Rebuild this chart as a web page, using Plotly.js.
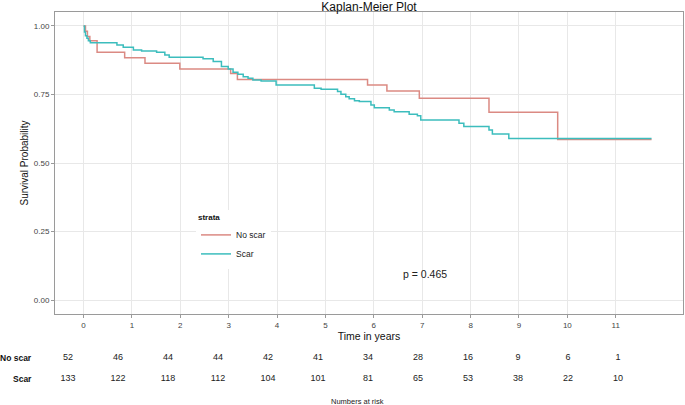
<!DOCTYPE html>
<html>
<head>
<meta charset="utf-8">
<script src="https://cdn.plot.ly/plotly-3.0.1.min.js"></script>
<style>html,body{margin:0;padding:0;background:#fff;}#chart{width:685px;height:405px;}</style>
</head>
<body>
<div id="chart"></div>
<script>
// ---- data ----
const strata = ["No scar", "Scar"];
const noScarTime = [0, 0.04, 0.08, 0.13, 0.28, 0.85, 1.27, 1.99, 3.04, 3.18, 5.87, 6.27, 6.94, 8.38, 9.80, 11.74];
const noScarSurv = [1.0, 0.981, 0.962, 0.946, 0.904, 0.884, 0.864, 0.843, 0.827, 0.805, 0.785, 0.763, 0.736, 0.685, 0.586, 0.586];
const scarTime = [0, 0.02, 0.04, 0.07, 0.10, 0.14, 0.69, 0.82, 1.03, 1.20, 1.51, 1.68, 1.77, 2.47, 2.68, 2.85, 2.99, 3.09, 3.19, 3.30, 3.40, 3.50, 3.67, 3.98, 4.77, 4.91, 5.25, 5.32, 5.42, 5.49, 5.60, 5.70, 5.94, 6.01, 6.32, 6.42, 6.73, 6.90, 6.97, 7.76, 7.86, 8.38, 8.45, 8.79, 11.74];
const scarSurv = [1.0, 0.978, 0.964, 0.955, 0.946, 0.939, 0.931, 0.922, 0.912, 0.909, 0.904, 0.894, 0.886, 0.880, 0.870, 0.852, 0.843, 0.831, 0.824, 0.815, 0.809, 0.803, 0.799, 0.785, 0.773, 0.769, 0.761, 0.751, 0.742, 0.734, 0.727, 0.724, 0.712, 0.702, 0.693, 0.687, 0.678, 0.672, 0.657, 0.645, 0.633, 0.620, 0.606, 0.589, 0.589];
const riskTimes = [0, 1, 2, 3, 4, 5, 6, 7, 8, 9, 10, 11];
const riskNoScar = [52, 46, 44, 44, 42, 41, 34, 28, 16, 9, 6, 1];
const riskScar = [133, 122, 118, 112, 104, 101, 81, 65, 53, 38, 22, 10];
const xTicks = [0, 1, 2, 3, 4, 5, 6, 7, 8, 9, 10, 11];
const yTicks = [0, 0.25, 0.5, 0.75, 1];
const pText = "p = 0.465";
const colors = ["#DB8A83", "#3CBDBD"];

const FONT = "Liberation Sans, Arial, sans-serif";
const W = 685, H = 405;

const traces = [
  {x: noScarTime, y: noScarSurv, name: strata[0], type: "scatter", mode: "lines",
   line: {shape: "hv", color: colors[0], width: 1.5}, xaxis: "x", yaxis: "y", legendgroup: "a"},
  {x: scarTime, y: scarSurv, name: strata[1], type: "scatter", mode: "lines",
   line: {shape: "hv", color: colors[1], width: 1.5}, xaxis: "x", yaxis: "y", legendgroup: "b"},
  {x: riskTimes, y: riskTimes.map(() => 2), text: riskNoScar.map(String), type: "scatter", mode: "text",
   textfont: {family: FONT, size: 9, color: "#222"}, showlegend: false, xaxis: "x2", yaxis: "y2",
   cliponaxis: false, hoverinfo: "skip"},
  {x: riskTimes, y: riskTimes.map(() => 1), text: riskScar.map(String), type: "scatter", mode: "text",
   textfont: {family: FONT, size: 9, color: "#222"}, showlegend: false, xaxis: "x2", yaxis: "y2",
   cliponaxis: false, hoverinfo: "skip"}
];

const layout = {
  width: W, height: H,
  margin: {l: 0, r: 0, t: 0, b: 0},
  paper_bgcolor: "#fff", plot_bgcolor: "#fff",
  font: {family: FONT, color: "#222"},
  showlegend: true,
  title: {text: "Kaplan-Meier Plot", font: {family: FONT, size: 12, color: "#111"},
          x: 369 / W, xanchor: "center", y: 1 - 7 / H, yanchor: "middle"},
  xaxis: {
    domain: [55 / W, 683 / W], range: [-0.59, 12.39], anchor: "y",
    tickvals: xTicks, ticktext: xTicks.map(String),
    showgrid: true, gridcolor: "#e8e8e8", gridwidth: 1, zeroline: false,
    showline: true, mirror: true, linecolor: "#9a9a9a", linewidth: 1,
    ticks: "outside", ticklen: 3, tickcolor: "#9a9a9a",
    tickfont: {family: FONT, size: 8, color: "#444"},
    title: {text: "Time in years", font: {family: FONT, size: 10.5, color: "#111"}, standoff: 2}
  },
  yaxis: {
    domain: [(H - 314) / H, (H - 12) / H], range: [-0.051, 1.051], anchor: "x",
    tickvals: yTicks, tickformat: ".2f",
    showgrid: true, gridcolor: "#e8e8e8", gridwidth: 1, zeroline: false,
    showline: true, mirror: true, linecolor: "#9a9a9a", linewidth: 1,
    ticks: "outside", ticklen: 3, tickcolor: "#9a9a9a",
    tickfont: {family: FONT, size: 8, color: "#444"},
    title: {text: "Survival Probability", font: {family: FONT, size: 10, color: "#111"}, standoff: 3}
  },
  xaxis2: {domain: [0, 1], range: [-1.36, 12.34], anchor: "y2", visible: false, fixedrange: true},
  yaxis2: {domain: [0, 0.2], range: [-0.26, 3.65], anchor: "x2", visible: false, fixedrange: true},
  legend: {
    x: 196 / W, xanchor: "left", y: 1 - 210 / H, yanchor: "top",
    bgcolor: "#fff", borderwidth: 0,
    font: {family: FONT, size: 8.5, color: "#222"},
    title: {text: "<b>strata</b>", font: {family: FONT, size: 8, color: "#111"}},
    tracegroupgap: 0
  },
  annotations: [
    {x: 7.06, y: 0.095, xref: "x", yref: "y", text: pText, showarrow: false,
     font: {family: FONT, size: 10.5, color: "#222"}, xanchor: "center", yanchor: "middle"},
    {x: -0.69, y: 2, xref: "x2", yref: "y2", text: "<b>" + strata[0] + "</b>", showarrow: false,
     xanchor: "right", yanchor: "middle", font: {family: FONT, size: 8.5, color: "#111"}},
    {x: -0.69, y: 1, xref: "x2", yref: "y2", text: "<b>" + strata[1] + "</b>", showarrow: false,
     xanchor: "right", yanchor: "middle", font: {family: FONT, size: 8.5, color: "#111"}},
    {x: 357 / W, y: (H - 401) / H, xref: "paper", yref: "paper", text: "Numbers at risk", showarrow: false,
     xanchor: "center", yanchor: "middle", font: {family: FONT, size: 7.5, color: "#222"}}
  ]
};

Plotly.newPlot("chart", traces, layout, {displayModeBar: false, staticPlot: true});
</script>
</body>
</html>
